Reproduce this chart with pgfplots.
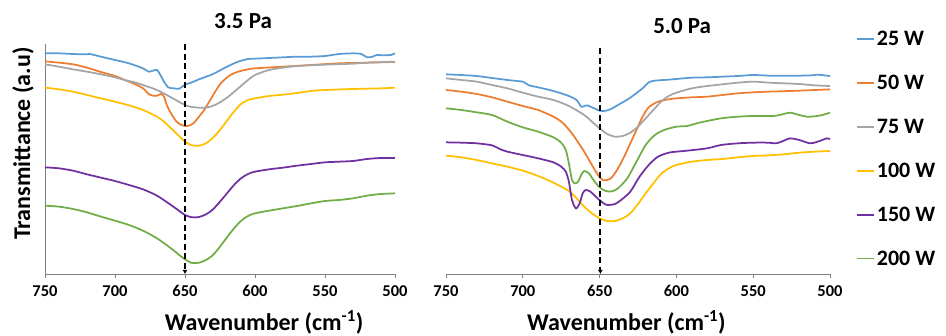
\documentclass[border=0pt]{standalone}
\usepackage{fontspec}
\setmainfont{Carlito}
\usepackage{pgfplots}
\pgfplotsset{compat=1.18}
\usetikzlibrary{arrows.meta}
\definecolor{c25}{HTML}{5B9BD5}
\definecolor{c50}{HTML}{ED7D31}
\definecolor{c75}{HTML}{A5A5A5}
\definecolor{c100}{HTML}{FFC000}
\definecolor{c150}{HTML}{7030A0}
\definecolor{c200}{HTML}{70AD47}
\definecolor{axgray}{HTML}{7F7F7F}
\pgfplotsset{
 myaxis/.style={
  scale only axis, height=230pt,
  xmin=500, xmax=750, x dir=reverse,
  ymin=132, ymax=822, y dir=reverse,
  axis x line*=bottom,
  xtick={500,550,...,750}, ytick=\empty,
  tick align=outside, major tick length=4pt,
  xtick style={axgray, line width=0.9pt},
  axis line style={axgray, line width=0.9pt, -},
  /pgf/number format/assume math mode=true,
  xticklabel style={font=\fontsize{16.5}{19}\selectfont\bfseries, yshift=-4pt},
  xlabel={Wavenumber (cm\textsuperscript{-1})},
  label style={font=\fontsize{24}{28}\selectfont\bfseries},
  title style={font=\fontsize{23}{27}\selectfont\bfseries, anchor=center},
  clip=false,
  every axis plot/.append style={line width=1.75pt, smooth, tension=0.45},
 },
 dashline/.style={black, line width=1.9pt, dash pattern=on 6pt off 3.5pt, sharp plot, -{Latex[length=4pt,width=5pt]}},
}
\begin{document}
\begin{tikzpicture}
\useasboundingbox (-45pt,-62pt) rectangle (901pt,274pt);
% ---------------- 3.5 Pa ----------------
\begin{axis}[myaxis, at={(0pt,0pt)}, anchor=south west, width=350pt,
  axis y line*=left,
  xlabel style={at={(axis description cs:0.626,-0.209)}, anchor=center},
  ylabel={Transmittance (a.u)},
  ylabel style={at={(axis description cs:-0.063,0.567)}, anchor=center, rotate=0},
  title={3.5 Pa}, title style={at={(axis description cs:0.566,1.075)}},
]
\addplot[c25] coordinates {(750,160)(740,160)(730,162)(722,163)(718,162)(710,170)(700,180)(690,190)(680,205)(676,215)(673,212)(670,210)(668,222)(665,245)(662,262)(658,265)(654,266)(650,254)(645,247)(640,238)(630,222)(620,200)(612,185)(605,177)(600,176)(590,174)(580,172)(570,170)(560,170)(550,168)(540,162)(530,160)(524,162)(520,172)(516,170)(513,165)(508,166)(503,165)(500,160)};
\addplot[c50] coordinates {(750,184)(740,188)(730,193)(720,203)(710,216)(700,228)(693,240)(686,252)(680,265)(676,282)(673,287)(670,287)(667,282)(665,290)(663,315)(660,340)(656,365)(652,376)(648,378)(644,370)(640,350)(636,328)(632,300)(628,272)(624,248)(618,226)(612,215)(605,208)(600,205)(580,200)(560,195)(540,190)(520,188)(500,186)};
\addplot[c75] coordinates {(750,193)(740,200)(730,208)(720,215)(710,223)(700,232)(693,240)(686,247)(680,255)(670,270)(660,292)(650,315)(645,321)(640,323)(634,322)(628,314)(620,293)(612,265)(605,240)(600,225)(590,210)(580,203)(570,198)(550,194)(530,191)(520,188)(500,185)};
\addplot[c100] coordinates {(750,263)(740,268)(730,275)(720,285)(710,295)(700,305)(690,316)(680,330)(670,350)(665,365)(660,385)(655,405)(650,425)(645,436)(640,437)(635,430)(630,413)(625,390)(620,362)(615,335)(610,312)(605,300)(600,295)(590,288)(580,284)(570,279)(560,273)(550,270)(530,267)(510,265)(500,263)};
\addplot[c150] coordinates {(750,502)(740,505)(730,512)(720,523)(710,533)(700,543)(690,555)(680,568)(670,587)(660,615)(655,630)(650,645)(645,652)(640,651)(635,643)(630,628)(625,605)(620,580)(615,555)(610,535)(605,522)(600,515)(590,508)(580,503)(570,497)(560,492)(550,487)(540,485)(530,483)(520,477)(510,474)(500,474)};
\addplot[c200] coordinates {(750,617)(740,620)(730,627)(720,637)(710,650)(700,662)(690,675)(680,692)(670,715)(660,745)(655,762)(650,778)(645,789)(640,788)(635,780)(630,765)(625,740)(620,712)(615,685)(610,663)(605,648)(600,640)(590,632)(580,625)(570,618)(560,610)(550,603)(540,600)(530,595)(520,587)(510,582)(500,580)};
\addplot[dashline] coordinates {(650,133)(650,822)};
\end{axis}
% ---------------- 5.0 Pa ----------------
\begin{axis}[myaxis, at={(401pt,0pt)}, anchor=south west, width=384pt,
  axis y line=none,
  xlabel style={at={(axis description cs:0.47,-0.209)}, anchor=center},
  title={5.0 Pa}, title style={at={(axis description cs:0.615,1.05)}},
  legend style={at={(axis description cs:1.068,1.065)}, anchor=north west, draw=none, fill=none,
    font=\fontsize{22}{26}\selectfont\bfseries, row sep=24pt, inner sep=0pt,
    nodes={inner sep=2pt}},
  legend cell align=left,
  legend image code/.code={\draw[#1, line width=1.6pt, sharp plot] (0pt,0pt) -- (17pt,0pt);},
]
\addplot[c25] coordinates {(750,223)(740,225)(730,228)(720,234)(710,240)(700,245)(698,250)(696,256)(690,262)(680,273)(670,288)(665,300)(662,320)(660,318)(658,316)(655,322)(650,332)(647,333)(643,328)(638,315)(630,293)(622,265)(618,247)(614,242)(605,239)(600,237)(590,233)(580,232)(570,230)(560,228)(550,225)(540,227)(530,227)(520,227)(512,226)(508,224)(504,226)(500,228)};
\addlegendentry{25 W}
\addplot[c50] coordinates {(750,270)(740,275)(730,282)(720,292)(710,305)(700,318)(690,330)(680,350)(675,365)(672,378)(668,400)(665,420)(660,455)(655,495)(651,525)(648,540)(645,540)(642,532)(638,505)(634,470)(630,430)(626,390)(622,350)(618,322)(612,305)(605,298)(600,295)(590,292)(580,290)(570,285)(560,280)(550,277)(540,275)(520,272)(500,268)};
\addlegendentry{50 W}
\addplot[c75] coordinates {(750,235)(740,240)(730,245)(720,255)(710,265)(700,278)(690,290)(680,300)(670,318)(660,345)(655,365)(650,385)(645,402)(640,410)(635,408)(630,398)(625,380)(620,355)(615,330)(610,305)(605,288)(600,278)(590,265)(580,258)(570,253)(560,248)(550,245)(540,248)(530,250)(520,252)(510,256)(500,258)};
\addlegendentry{75 W}
\addplot[c100] coordinates {(750,467)(740,472)(730,480)(720,490)(710,500)(700,512)(690,528)(680,548)(670,573)(665,595)(660,620)(655,640)(650,655)(645,663)(640,663)(635,655)(630,640)(625,612)(620,580)(615,550)(610,522)(605,505)(600,495)(590,485)(580,480)(570,477)(560,472)(550,468)(540,466)(530,463)(520,458)(510,455)(500,453)};
\addlegendentry{100 W}
\addplot[c150] coordinates {(750,427)(740,428)(730,430)(720,436)(715,447)(710,455)(700,465)(690,475)(680,487)(675,500)(672,515)(670,545)(668,600)(666,622)(665,625)(663,610)(661,580)(659,570)(656,575)(652,592)(648,608)(645,615)(640,612)(636,600)(630,575)(624,530)(618,495)(612,470)(605,458)(600,455)(593,452)(580,445)(571,435)(560,430)(550,428)(540,428)(535,430)(530,422)(526,415)(520,420)(513,430)(508,425)(502,415)(500,418)};
\addlegendentry{150 W}
\addplot[c200] coordinates {(750,325)(740,330)(730,337)(720,345)(710,365)(700,382)(690,395)(680,412)(675,428)(672,450)(670,490)(668,540)(666,550)(664,545)(662,525)(660,513)(657,520)(654,540)(650,562)(646,573)(642,574)(638,565)(632,535)(626,485)(620,435)(614,405)(608,390)(600,380)(593,378)(585,368)(571,355)(560,350)(550,348)(537,348)(531,343)(526,338)(520,345)(515,350)(510,349)(505,345)(500,338)};
\addlegendentry{200 W}
\addplot[dashline, forget plot] coordinates {(649.5,145)(649.5,822)};
\end{axis}
\end{tikzpicture}
\end{document}
